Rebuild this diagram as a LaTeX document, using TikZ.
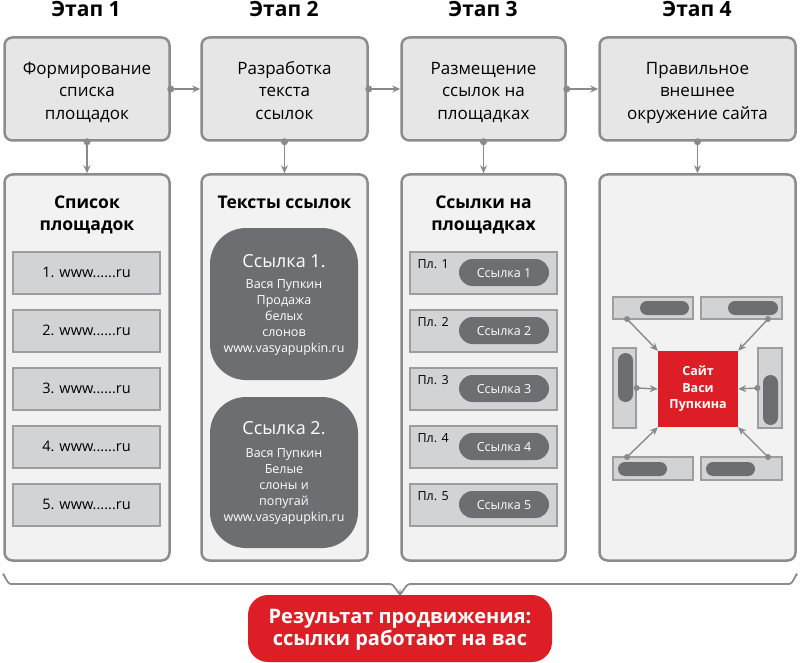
\documentclass[tikz,border=0pt]{standalone}
\usepackage{fontspec}
\setmainfont{Open Sans}
\usetikzlibrary{arrows.meta,calc}
\definecolor{bordergray}{HTML}{8C8C8C}
\definecolor{topfill}{HTML}{E6E6E7}
\definecolor{panelfill}{HTML}{F2F2F2}
\definecolor{itemfill}{HTML}{D1D3D4}
\definecolor{itemborder}{HTML}{9D9D9D}
\definecolor{darkfill}{HTML}{6D6E71}
\definecolor{redfill}{HTML}{DD1E26}
\definecolor{arrowgray}{HTML}{8A8A8A}
\newcommand{\fs}[2]{\fontsize{#1}{#2}\selectfont}
\begin{document}
\begin{tikzpicture}[x=1pt,y=-1pt,
  stagebox/.style={draw=bordergray, line width=2.5pt, fill=topfill, rounded corners=8pt, inner sep=0pt},
  panel/.style={draw=bordergray, line width=2.5pt, fill=panelfill, rounded corners=8pt, inner sep=0pt},
  itembox/.style={draw=itemborder, line width=1.2pt, fill=itemfill, inner sep=0pt},
  pill/.style={fill=darkfill, inner sep=0pt},
  conn/.style={draw=arrowgray, line width=1.4pt, -{Stealth[length=8pt,width=7pt]}},
  ttl/.style={font=\fs{21}{24}\bfseries, anchor=base, inner sep=0pt},
  txt/.style={inner sep=0pt, anchor=base, align=center},
]
\useasboundingbox (0,0) rectangle (800,663);

% stage titles
\node[ttl] (h1) at (86,17) {Этап 1};
\node[ttl] (h2) at (284,17) {Этап 2};
\node[ttl] (h3) at (483,17) {Этап 3};
\node[ttl] (h4) at (697,17) {Этап 4};

% top boxes
\node[stagebox, minimum width=165pt, minimum height=103pt] (b1) at (87,89) {};
\node[stagebox, minimum width=166pt, minimum height=103pt] (b2) at (284.5,89) {};
\node[stagebox, minimum width=164pt, minimum height=103pt] (b3) at (483.5,89) {};
\node[stagebox, minimum width=196pt, minimum height=103pt] (b4) at (697.5,89) {};

\foreach \x/\a/\b/\c in {87/Формирование/списка/площадок, 284.5/Разработка/текста/ссылок, 483.5/Размещение/ссылок на/площадках, 697.5/Правильное/внешнее/окружение сайта}{
  \node[txt, font=\fs{17}{20}] at (\x,74.5) {\a};
  \node[txt, font=\fs{17}{20}] at (\x,97) {\b};
  \node[txt, font=\fs{17}{20}] at (\x,119.5) {\c};
}

% lower panels
\node[panel, minimum width=165pt, minimum height=386pt] (p1) at (87,367.5) {};
\node[panel, minimum width=166pt, minimum height=386pt] (p2) at (284.5,367.5) {};
\node[panel, minimum width=164pt, minimum height=386pt] (p3) at (483.5,367.5) {};
\node[panel, minimum width=196pt, minimum height=386pt] (p4) at (697.5,367.5) {};

% connectors
\foreach \u/\v in {b1/b2, b2/b3, b3/b4}{
  \draw[conn] (\u.east) -- (\v.west);
  \fill[arrowgray] (\u.east) circle (3.5pt);
}
\foreach \u/\v in {b1/p1, b2/p2, b3/p3, b4/p4}{
  \draw[conn] (\u.south) -- (\v.north);
  \fill[arrowgray] (\u.south) circle (3.5pt);
}

% panel titles
\node[txt, font=\fs{17.5}{22}\bfseries] at (87,208) {Список};
\node[txt, font=\fs{17.5}{22}\bfseries] at (87,230) {площадок};
\node[txt, font=\fs{17.5}{22}\bfseries] at (284.5,208) {Тексты ссылок};
\node[txt, font=\fs{17.5}{22}\bfseries] at (483.5,208) {Ссылки на};
\node[txt, font=\fs{17.5}{22}\bfseries] at (483.5,230) {площадках};

% column 1 items
\foreach \i in {1,...,5}{
  \pgfmathsetmacro{\yy}{273+58*(\i-1)}
  \node[itembox, minimum width=147pt, minimum height=42pt] (s\i) at (86.5,\yy) {};
  \node[txt, font=\fs{14.5}{16}] at ($(s\i.center)+(0,4.5)$) {\i. www......ru};
}

% column 2 link texts
\node[pill, rounded corners=36pt, minimum width=148pt, minimum height=152pt] (l1) at (284,304) {};
\node[pill, rounded corners=36pt, minimum width=148pt, minimum height=151pt] (l2) at (284,472.5) {};
\node[txt, text=white, font=\fs{18}{22}] at (284,267) {Ссылка 1.};
\foreach \t [count=\k] in {Вася Пупкин, Продажа, белых, слонов, www.vasyapupkin.ru}{
  \node[txt, text=white, font=\fs{12.5}{15}] at (284,272+16*\k) {\t};
}
\node[txt, text=white, font=\fs{18}{22}] at (284,434) {Ссылка 2.};
\foreach \t [count=\k] in {Вася Пупкин, Белые, слоны и, попугай, www.vasyapupkin.ru}{
  \node[txt, text=white, font=\fs{12.5}{15}] at (284,441+16*\k) {\t};
}

% column 3 items
\foreach \i in {1,...,5}{
  \pgfmathsetmacro{\yy}{273+58*(\i-1)}
  \node[itembox, minimum width=147pt, minimum height=42pt] (q\i) at (483.5,\yy) {};
  \node[inner sep=0pt, anchor=base west, font=\fs{12.5}{16}] at ($(q\i.west)+(8,-5)$) {Пл. \i};
  \node[pill, rounded corners=13.5pt, minimum width=90pt, minimum height=27pt] (r\i) at ($(q\i.center)+(20.5,-0.5)$) {};
  \node[txt, text=white, font=\fs{12.5}{16}] at ($(r\i.center)+(0,4.5)$) {Ссылка \i};
}

% column 4 scheme
\node[itembox, minimum width=80pt, minimum height=22pt] (tl) at (653,308) {};
\node[itembox, minimum width=81pt, minimum height=22pt] (tr) at (741.5,308) {};
\node[itembox, minimum width=23pt, minimum height=80pt] (lv) at (624.5,388) {};
\node[itembox, minimum width=24pt, minimum height=80pt] (rv) at (770,388) {};
\node[itembox, minimum width=80pt, minimum height=23pt] (bl) at (653,468.5) {};
\node[itembox, minimum width=81pt, minimum height=23pt] (br) at (741.5,468.5) {};
\node[pill, rounded corners=7pt, minimum width=49pt, minimum height=14pt] at (664.5,308) {};
\node[pill, rounded corners=7pt, minimum width=50pt, minimum height=14pt] at (753,308) {};
\node[pill, rounded corners=7.5pt, minimum width=15pt, minimum height=49pt] at (625.5,377.5) {};
\node[pill, rounded corners=7.5pt, minimum width=15pt, minimum height=50pt] at (770.5,400) {};
\node[pill, rounded corners=7pt, minimum width=49pt, minimum height=14pt] at (642.5,469) {};
\node[pill, rounded corners=7pt, minimum width=49pt, minimum height=14pt] at (730.5,469) {};
\node[fill=redfill, inner sep=0pt, minimum width=80pt, minimum height=76pt] (site) at (698,389) {};
\node[txt, text=white, font=\fs{12.5}{16}\bfseries] at (698,375) {Сайт};
\node[txt, text=white, font=\fs{12.5}{16}\bfseries] at (698,392) {Васи};
\node[txt, text=white, font=\fs{12.5}{16}\bfseries] at (698,408) {Пупкина};

\coordinate (tlp) at (627,319);
\coordinate (trp) at (768,319);
\coordinate (lvp) at (lv.east);
\coordinate (rvp) at (rv.west);
\coordinate (blp) at (627,457);
\coordinate (brp) at (768,457);
\draw[conn] (tlp) -- (site.north west);
\draw[conn] (trp) -- (site.north east);
\draw[conn] (lvp) -- (site.west);
\draw[conn] (rvp) -- (site.east);
\draw[conn] (blp) -- (site.south west);
\draw[conn] (brp) -- (site.south east);
\foreach \c in {tlp,trp,lvp,rvp,blp,brp}{\fill[arrowgray] (\c) circle (3pt);}

% brace
\draw[draw=bordergray, line width=1.8pt, line cap=round]
  (3,575) to[out=90,in=180] (11,584) -- (390,584) to[out=0,in=-90] (400,593)
  to[out=-90,in=180] (410,584) -- (789,584) to[out=0,in=90] (797,575);

% result
\node[fill=redfill, rounded corners=20pt, inner sep=0pt, minimum width=304pt, minimum height=67pt] (res) at (400,628.5) {};
\node[txt, text=white, font=\fs{20}{24}\bfseries] at (400,623) {Результат продвижения:};
\node[txt, text=white, font=\fs{20}{24}\bfseries] at (400,645) {ссылки работают на вас};
\end{tikzpicture}
\end{document}
